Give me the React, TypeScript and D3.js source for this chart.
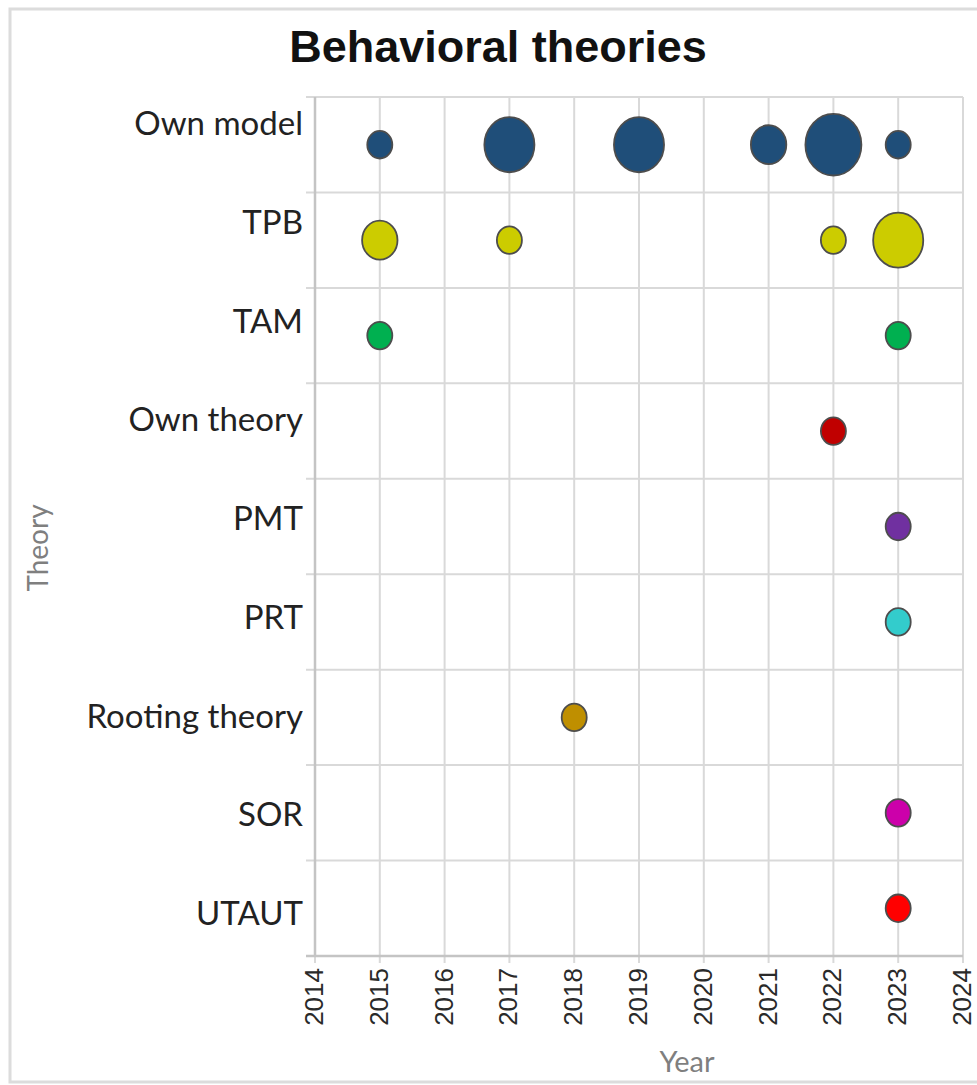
import React, { useRef, useEffect } from 'react';
import * as d3 from 'd3';

// theory categories, top to bottom
const theories = ['Own model', 'TPB', 'TAM', 'Own theory', 'PMT', 'PRT', 'Rooting theory', 'SOR', 'UTAUT'];
const colors = ['#1f4e79', '#cccc00', '#00b050', '#c00000', '#7030a0', '#33cccc', '#bf8f00', '#cc00aa', '#ff0000'];

// number of studies per theory and year
const ownModel = [[2015, 1], [2017, 4], [2019, 4], [2021, 2], [2022, 5], [2023, 1]];
const tpb = [[2015, 2], [2017, 1], [2022, 1], [2023, 4]];
const tam = [[2015, 1], [2023, 1]];
const ownTheory = [[2022, 1]];
const pmt = [[2023, 1]];
const prt = [[2023, 1]];
const rooting = [[2018, 1]];
const sor = [[2023, 1]];
const utaut = [[2023, 1]];
const seriesList = [ownModel, tpb, tam, ownTheory, pmt, prt, rooting, sor, utaut];

const yearTicks = [2014, 2015, 2016, 2017, 2018, 2019, 2020, 2021, 2022, 2023, 2024];

function App() {
    const ref = useRef(null);

    useEffect(() => {
        const svg = d3.select(ref.current);
        svg.selectAll('*').remove();

        const left = 315, right = 963, top = 97, bottom = 956;

        const x = d3.scaleLinear().domain([2014, 2024]).range([left, right]);
        const y = d3.scaleBand().domain(theories).range([top, bottom]);
        const labelY = d3.scalePoint().domain(theories).range([135, 925]);
        const r = d3.scaleSqrt().domain([0, 5]).range([0, 28]);

        // frame
        svg.append('path')
            .attr('d', `M990,9 L10,9 L10,1082 L990,1082`)
            .attr('fill', 'none')
            .attr('stroke', '#dcdcdc')
            .attr('stroke-width', 3);

        svg.append('text')
            .attr('x', 498).attr('y', 62)
            .attr('text-anchor', 'middle')
            .attr('font-family', 'Liberation Sans, Arial, sans-serif')
            .attr('font-weight', 'bold')
            .attr('font-size', 45)
            .attr('fill', '#111')
            .text('Behavioral theories');

        const grid = svg.append('g');
        // vertical grid lines
        grid.selectAll('line.v').data(yearTicks).enter().append('line')
            .attr('x1', d => x(d)).attr('x2', d => x(d))
            .attr('y1', top).attr('y2', bottom + 7)
            .attr('stroke', '#d9d9d9').attr('stroke-width', 2);
        // horizontal band lines
        const bounds = theories.map(t => y(t)).concat([bottom]);
        grid.selectAll('line.h').data(bounds).enter().append('line')
            .attr('x1', left - 9).attr('x2', right)
            .attr('y1', d => d).attr('y2', d => d)
            .attr('stroke', '#d9d9d9').attr('stroke-width', 2);
        // axis lines
        grid.append('line')
            .attr('x1', left).attr('x2', left).attr('y1', top).attr('y2', bottom)
            .attr('stroke', '#c4c4c4').attr('stroke-width', 2.5);
        grid.append('line')
            .attr('x1', left - 9).attr('x2', right).attr('y1', bottom).attr('y2', bottom)
            .attr('stroke', '#c4c4c4').attr('stroke-width', 2.5);

        // category labels
        svg.append('g').selectAll('text').data(theories).enter().append('text')
            .attr('x', 303).attr('y', d => labelY(d))
            .attr('text-anchor', 'end')
            .attr('font-family', 'Lato, sans-serif')
            .attr('font-size', 33)
            .attr('fill', '#222')
            .text(d => d);

        // year tick labels
        svg.append('g').selectAll('text').data(yearTicks).enter().append('text')
            .attr('transform', d => `translate(${x(d) + 8},968) rotate(-90)`)
            .attr('text-anchor', 'end')
            .attr('font-family', 'Liberation Sans, Arial, sans-serif')
            .attr('font-size', 26)
            .attr('fill', '#2a2a2a')
            .text(d => d);

        svg.append('text')
            .attr('x', 687).attr('y', 1072)
            .attr('text-anchor', 'middle')
            .attr('font-family', 'Lato, sans-serif')
            .attr('font-size', 29)
            .attr('fill', '#7f7f7f')
            .text('Year');

        svg.append('text')
            .attr('transform', 'translate(48,548) rotate(-90)')
            .attr('text-anchor', 'middle')
            .attr('font-family', 'Lato, sans-serif')
            .attr('font-size', 28)
            .attr('fill', '#7f7f7f')
            .text('Theory');

        // bubbles
        seriesList.forEach((series, i) => {
            const name = theories[i];
            const cy = y(name) + y.bandwidth() / 2;
            svg.append('g').selectAll('ellipse').data(series).enter().append('ellipse')
                .attr('cx', d => x(d[0]))
                .attr('cy', cy)
                .attr('rx', d => r(d[1]))
                .attr('ry', d => r(d[1]) * 1.1)
                .attr('fill', colors[i])
                .attr('stroke', '#4d4d4d')
                .attr('stroke-width', 1.8);
        });
    }, []);

    return (
        <svg width="977" height="1085" ref={ref}
            style={{ position: 'absolute', left: 0, top: 0, background: '#fff' }}></svg>
    );
}

export default App;
